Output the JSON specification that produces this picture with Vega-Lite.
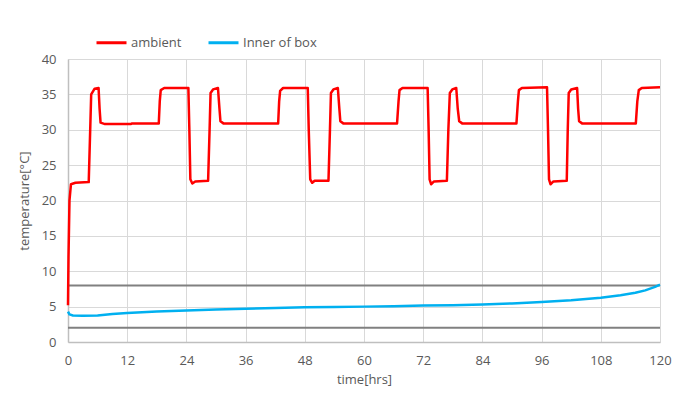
{
  "$schema": "https://vega.github.io/schema/vega-lite/v6.json",
  "width": 592,
  "height": 283,
  "autosize": {"type": "none"},
  "padding": {"left": 68, "top": 59, "right": 32, "bottom": 54},
  "background": "white",
  "config": {
    "font": "Open Sans",
    "view": {"stroke": null},
    "axis": {
      "labelFont": "Open Sans",
      "titleFont": "Open Sans",
      "labelFontSize": 13,
      "titleFontSize": 13,
      "labelColor": "#595959",
      "titleColor": "#595959",
      "titleFontWeight": "normal",
      "gridColor": "#d9d9d9",
      "gridWidth": 1,
      "ticks": false,
      "labelOverlap": false,
      "domainColor": "#bfbfbf",
      "domainWidth": 1.5
    }
  },
  "datasets": {
    "series": [
      {"hours": 0, "temp": 5.2, "series": "ambient"},
      {"hours": 0.1, "temp": 12, "series": "ambient"},
      {"hours": 0.3, "temp": 20, "series": "ambient"},
      {"hours": 0.6, "temp": 22.3, "series": "ambient"},
      {"hours": 1.5, "temp": 22.5, "series": "ambient"},
      {"hours": 4.2, "temp": 22.6, "series": "ambient"},
      {"hours": 4.5, "temp": 30, "series": "ambient"},
      {"hours": 4.7, "temp": 35, "series": "ambient"},
      {"hours": 5.4, "temp": 35.8, "series": "ambient"},
      {"hours": 6.2, "temp": 35.9, "series": "ambient"},
      {"hours": 6.4, "temp": 33, "series": "ambient"},
      {"hours": 6.6, "temp": 31, "series": "ambient"},
      {"hours": 7.5, "temp": 30.8, "series": "ambient"},
      {"hours": 12.7, "temp": 30.8, "series": "ambient"},
      {"hours": 13, "temp": 30.9, "series": "ambient"},
      {"hours": 18.4, "temp": 30.9, "series": "ambient"},
      {"hours": 18.6, "temp": 34, "series": "ambient"},
      {"hours": 18.8, "temp": 35.6, "series": "ambient"},
      {"hours": 19.5, "temp": 35.9, "series": "ambient"},
      {"hours": 24.4, "temp": 35.9, "series": "ambient"},
      {"hours": 24.6, "temp": 30, "series": "ambient"},
      {"hours": 24.8, "temp": 23, "series": "ambient"},
      {"hours": 25.2, "temp": 22.4, "series": "ambient"},
      {"hours": 25.8, "temp": 22.7, "series": "ambient"},
      {"hours": 28.4, "temp": 22.8, "series": "ambient"},
      {"hours": 28.7, "temp": 30, "series": "ambient"},
      {"hours": 28.9, "temp": 35.2, "series": "ambient"},
      {"hours": 29.4, "temp": 35.7, "series": "ambient"},
      {"hours": 30.4, "temp": 35.9, "series": "ambient"},
      {"hours": 30.7, "temp": 33, "series": "ambient"},
      {"hours": 30.9, "temp": 31.2, "series": "ambient"},
      {"hours": 31.5, "temp": 30.9, "series": "ambient"},
      {"hours": 42.6, "temp": 30.9, "series": "ambient"},
      {"hours": 42.8, "temp": 34, "series": "ambient"},
      {"hours": 43.0, "temp": 35.5, "series": "ambient"},
      {"hours": 43.6, "temp": 35.9, "series": "ambient"},
      {"hours": 48.6, "temp": 35.9, "series": "ambient"},
      {"hours": 48.8, "temp": 30, "series": "ambient"},
      {"hours": 49.1, "temp": 23, "series": "ambient"},
      {"hours": 49.5, "temp": 22.5, "series": "ambient"},
      {"hours": 50, "temp": 22.8, "series": "ambient"},
      {"hours": 52.8, "temp": 22.8, "series": "ambient"},
      {"hours": 53.1, "temp": 30, "series": "ambient"},
      {"hours": 53.3, "temp": 35.2, "series": "ambient"},
      {"hours": 53.8, "temp": 35.7, "series": "ambient"},
      {"hours": 54.7, "temp": 35.9, "series": "ambient"},
      {"hours": 55.0, "temp": 33, "series": "ambient"},
      {"hours": 55.2, "temp": 31.2, "series": "ambient"},
      {"hours": 55.8, "temp": 30.9, "series": "ambient"},
      {"hours": 66.7, "temp": 30.9, "series": "ambient"},
      {"hours": 67.0, "temp": 34, "series": "ambient"},
      {"hours": 67.2, "temp": 35.6, "series": "ambient"},
      {"hours": 67.8, "temp": 35.9, "series": "ambient"},
      {"hours": 72.9, "temp": 35.9, "series": "ambient"},
      {"hours": 73.1, "temp": 30, "series": "ambient"},
      {"hours": 73.3, "temp": 23, "series": "ambient"},
      {"hours": 73.6, "temp": 22.3, "series": "ambient"},
      {"hours": 74.2, "temp": 22.7, "series": "ambient"},
      {"hours": 76.8, "temp": 22.8, "series": "ambient"},
      {"hours": 77.1, "temp": 30, "series": "ambient"},
      {"hours": 77.4, "temp": 35.2, "series": "ambient"},
      {"hours": 77.9, "temp": 35.7, "series": "ambient"},
      {"hours": 78.7, "temp": 35.9, "series": "ambient"},
      {"hours": 79.0, "temp": 33, "series": "ambient"},
      {"hours": 79.3, "temp": 31.2, "series": "ambient"},
      {"hours": 79.9, "temp": 30.9, "series": "ambient"},
      {"hours": 90.9, "temp": 30.9, "series": "ambient"},
      {"hours": 91.2, "temp": 34, "series": "ambient"},
      {"hours": 91.4, "temp": 35.6, "series": "ambient"},
      {"hours": 92.0, "temp": 35.9, "series": "ambient"},
      {"hours": 97.1, "temp": 36.0, "series": "ambient"},
      {"hours": 97.3, "temp": 30, "series": "ambient"},
      {"hours": 97.5, "temp": 23, "series": "ambient"},
      {"hours": 97.8, "temp": 22.3, "series": "ambient"},
      {"hours": 98.4, "temp": 22.7, "series": "ambient"},
      {"hours": 101.1, "temp": 22.8, "series": "ambient"},
      {"hours": 101.3, "temp": 30, "series": "ambient"},
      {"hours": 101.5, "temp": 35.2, "series": "ambient"},
      {"hours": 102.0, "temp": 35.7, "series": "ambient"},
      {"hours": 103.2, "temp": 35.9, "series": "ambient"},
      {"hours": 103.4, "temp": 33, "series": "ambient"},
      {"hours": 103.6, "temp": 31.2, "series": "ambient"},
      {"hours": 104.2, "temp": 30.9, "series": "ambient"},
      {"hours": 115.1, "temp": 30.9, "series": "ambient"},
      {"hours": 115.4, "temp": 34, "series": "ambient"},
      {"hours": 115.7, "temp": 35.6, "series": "ambient"},
      {"hours": 116.3, "temp": 35.9, "series": "ambient"},
      {"hours": 120, "temp": 36.0, "series": "ambient"},
      {"hours": 0, "temp": 4.3, "series": "Inner of box"},
      {"hours": 0.3, "temp": 3.9, "series": "Inner of box"},
      {"hours": 1, "temp": 3.75, "series": "Inner of box"},
      {"hours": 3, "temp": 3.7, "series": "Inner of box"},
      {"hours": 6, "temp": 3.75, "series": "Inner of box"},
      {"hours": 9, "temp": 3.95, "series": "Inner of box"},
      {"hours": 12, "temp": 4.1, "series": "Inner of box"},
      {"hours": 18, "temp": 4.3, "series": "Inner of box"},
      {"hours": 24, "temp": 4.45, "series": "Inner of box"},
      {"hours": 30, "temp": 4.6, "series": "Inner of box"},
      {"hours": 36, "temp": 4.7, "series": "Inner of box"},
      {"hours": 42, "temp": 4.8, "series": "Inner of box"},
      {"hours": 48, "temp": 4.9, "series": "Inner of box"},
      {"hours": 54, "temp": 4.95, "series": "Inner of box"},
      {"hours": 60, "temp": 5.0, "series": "Inner of box"},
      {"hours": 66, "temp": 5.05, "series": "Inner of box"},
      {"hours": 72, "temp": 5.15, "series": "Inner of box"},
      {"hours": 78, "temp": 5.2, "series": "Inner of box"},
      {"hours": 84, "temp": 5.3, "series": "Inner of box"},
      {"hours": 90, "temp": 5.45, "series": "Inner of box"},
      {"hours": 96, "temp": 5.65, "series": "Inner of box"},
      {"hours": 102, "temp": 5.9, "series": "Inner of box"},
      {"hours": 108, "temp": 6.25, "series": "Inner of box"},
      {"hours": 112, "temp": 6.6, "series": "Inner of box"},
      {"hours": 115, "temp": 6.95, "series": "Inner of box"},
      {"hours": 117, "temp": 7.3, "series": "Inner of box"},
      {"hours": 119, "temp": 7.8, "series": "Inner of box"},
      {"hours": 120, "temp": 8.1, "series": "Inner of box"}
    ],
    "limits": [
      {"limit": 8},
      {"limit": 2}
    ]
  },
  "layer": [
    {
      "data": {"name": "limits"},
      "mark": {"type": "rule", "color": "#808080", "strokeWidth": 2},
      "encoding": {
        "y": {
          "field": "limit",
          "type": "quantitative",
          "title": "temperature[°C]",
          "scale": {"domain": [0, 40], "nice": false},
          "axis": {"values": [0, 5, 10, 15, 20, 25, 30, 35, 40], "labelPadding": 12, "titlePadding": 10}
        }
      }
    },
    {
      "data": {"name": "series"},
      "mark": {"type": "line", "strokeWidth": 2.5, "strokeJoin": "round"},
      "encoding": {
        "x": {
          "field": "hours",
          "type": "quantitative",
          "title": "time[hrs]",
          "scale": {"domain": [0, 120], "nice": false},
          "axis": {"values": [0, 12, 24, 36, 48, 60, 72, 84, 96, 108, 120], "labelPadding": 12, "titlePadding": 6, "labelFlush": false}
        },
        "y": {
          "field": "temp",
          "type": "quantitative",
          "title": "temperature[°C]",
          "scale": {"domain": [0, 40], "nice": false},
          "axis": {"values": [0, 5, 10, 15, 20, 25, 30, 35, 40], "labelPadding": 12, "titlePadding": 10}
        },
        "color": {
          "field": "series",
          "type": "nominal",
          "scale": {"domain": ["ambient", "Inner of box"], "range": ["#ff0000", "#00b0f0"]},
          "legend": {
            "title": null,
            "orient": "none",
            "direction": "horizontal",
            "legendX": 27,
            "legendY": -33,
            "symbolType": "stroke",
            "symbolStrokeWidth": 3,
            "symbolSize": 900,
            "labelFontSize": 13,
            "labelFont": "Open Sans",
            "labelColor": "#595959",
            "labelOffset": 3,
            "columnPadding": 20
          }
        },
        "detail": {"field": "series"}
      }
    }
  ]
}
